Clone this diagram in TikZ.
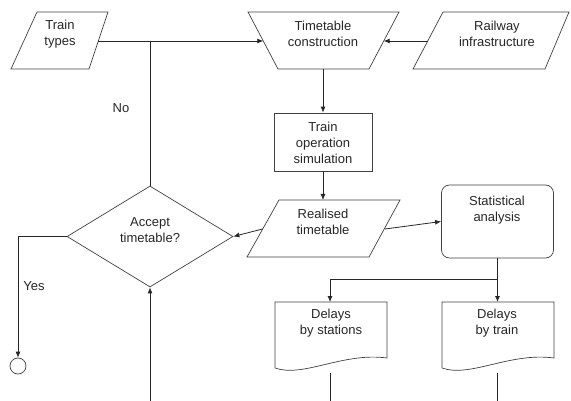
\documentclass[tikz,border=0pt]{standalone}
\usepackage{fontspec}
\setmainfont{Liberation Sans}
\usetikzlibrary{shapes.geometric,arrows.meta}
\begin{document}
\begin{tikzpicture}[x=1pt,y=-1pt,
  line/.style={draw=black!85, line width=0.8pt},
  arr/.style={line, -{Latex[length=6pt,width=5pt]}},
  outline/.style={draw=black!75, line width=0.7pt},
  lbl/.style={font=\fontsize{13}{16}\selectfont, align=center, inner sep=0pt, text=black!85}]
\useasboundingbox (0,0) rectangle (571,401);

% Train types (input)
\draw[outline] (37,12) -- (108,12) -- (89,69) -- (11,69) -- cycle;
\node[lbl] (types) at (60,34) {Train\\types};
\coordinate (typesR) at (98.3,41);

% Timetable construction (manual operation)
\draw[outline] (248,12) -- (399,12) -- (369,69) -- (278,69) -- cycle;
\node[lbl] (tcon) at (323,34) {Timetable\\construction};
\coordinate (tconL) at (263.3,41);
\coordinate (tconR) at (383.7,41);
\coordinate (tconB) at (323,69);

% Railway infrastructure (input)
\draw[outline] (443,12) -- (569,12) -- (545,69) -- (413,69) -- cycle;
\node[lbl] (rail) at (497,34) {Railway\\infrastructure};
\coordinate (railL) at (427.7,41);

% Train operation simulation
\node[outline, rectangle, minimum width=98pt, minimum height=58pt, inner sep=0pt] (sim) at (323,142) {};
\node[lbl] (simT) at (323,143) {Train\\operation\\simulation};

% Realised timetable (output)
\draw[outline] (279,200) -- (400,200) -- (369,257) -- (247,257) -- cycle;
\node[lbl] (real) at (323,222) {Realised\\timetable};
\coordinate (realT) at (323,200);
\coordinate (realL) at (262.5,229);
\coordinate (realR) at (385,229);

% Accept timetable? (decision)
\node[outline, diamond, minimum width=166pt, minimum height=101pt, inner sep=0pt] (dec) at (150,236.5) {};
\node[lbl] (decT) at (150,230) {Accept\\timetable?};

% Statistical analysis
\node[outline, rectangle, rounded corners=8pt, minimum width=112pt, minimum height=73pt, inner sep=0pt] (stat) at (497.5,221.5) {};
\node[lbl] (statT) at (497,210) {Statistical\\analysis};
\coordinate (split) at (497.5,279);

% Delays by stations (document)
\draw[outline] (275,302) -- (387,302) -- (387,358)
  .. controls (343,352) and (303,378) .. (275,368) -- cycle;
\node[lbl] (dst) at (331,323) {Delays\\by stations};
\coordinate (dstT) at (330,302);
\coordinate (dstB) at (330,372.5);
\coordinate (dstE) at (330,401);

% Delays by train (document)
\draw[outline] (442,302) -- (554,302) -- (554,358)
  .. controls (510,352) and (470,378) .. (442,368) -- cycle;
\node[lbl] (dtr) at (497,323) {Delays\\by train};
\coordinate (dtrT) at (497.5,302);
\coordinate (dtrB) at (497.5,372.5);
\coordinate (dtrE) at (497.5,401);

% End terminal
\node[outline, circle, minimum size=16pt, inner sep=0pt] (fin) at (18,366) {};

% Connectors
\coordinate (join) at (150,41);
\coordinate (bottom) at (150,401);
\draw[arr] (typesR) -- (tconL);
\draw[line] (dec.north) -- (join);
\draw[arr] (railL) -- (tconR);
\draw[arr] (tconB) -- (sim.north);
\draw[arr] (sim.south) -- (realT);
\draw[arr] (realL) -- (dec.east);
\draw[arr] (realR) -- (stat.west);
\draw[arr] (stat.south) -- (dtrT);
\draw[arr] (split) -| (dstT);
\draw[arr] (dec.west) -| (fin.north);
\draw[arr] (bottom) -- (dec.south);
\draw[line] (dstB) -- (dstE);
\draw[line] (dtrB) -- (dtrE);

% Labels
\node[lbl] (no) at (121,108) {No};
\node[lbl] (yes) at (34,286) {Yes};
\end{tikzpicture}
\end{document}
